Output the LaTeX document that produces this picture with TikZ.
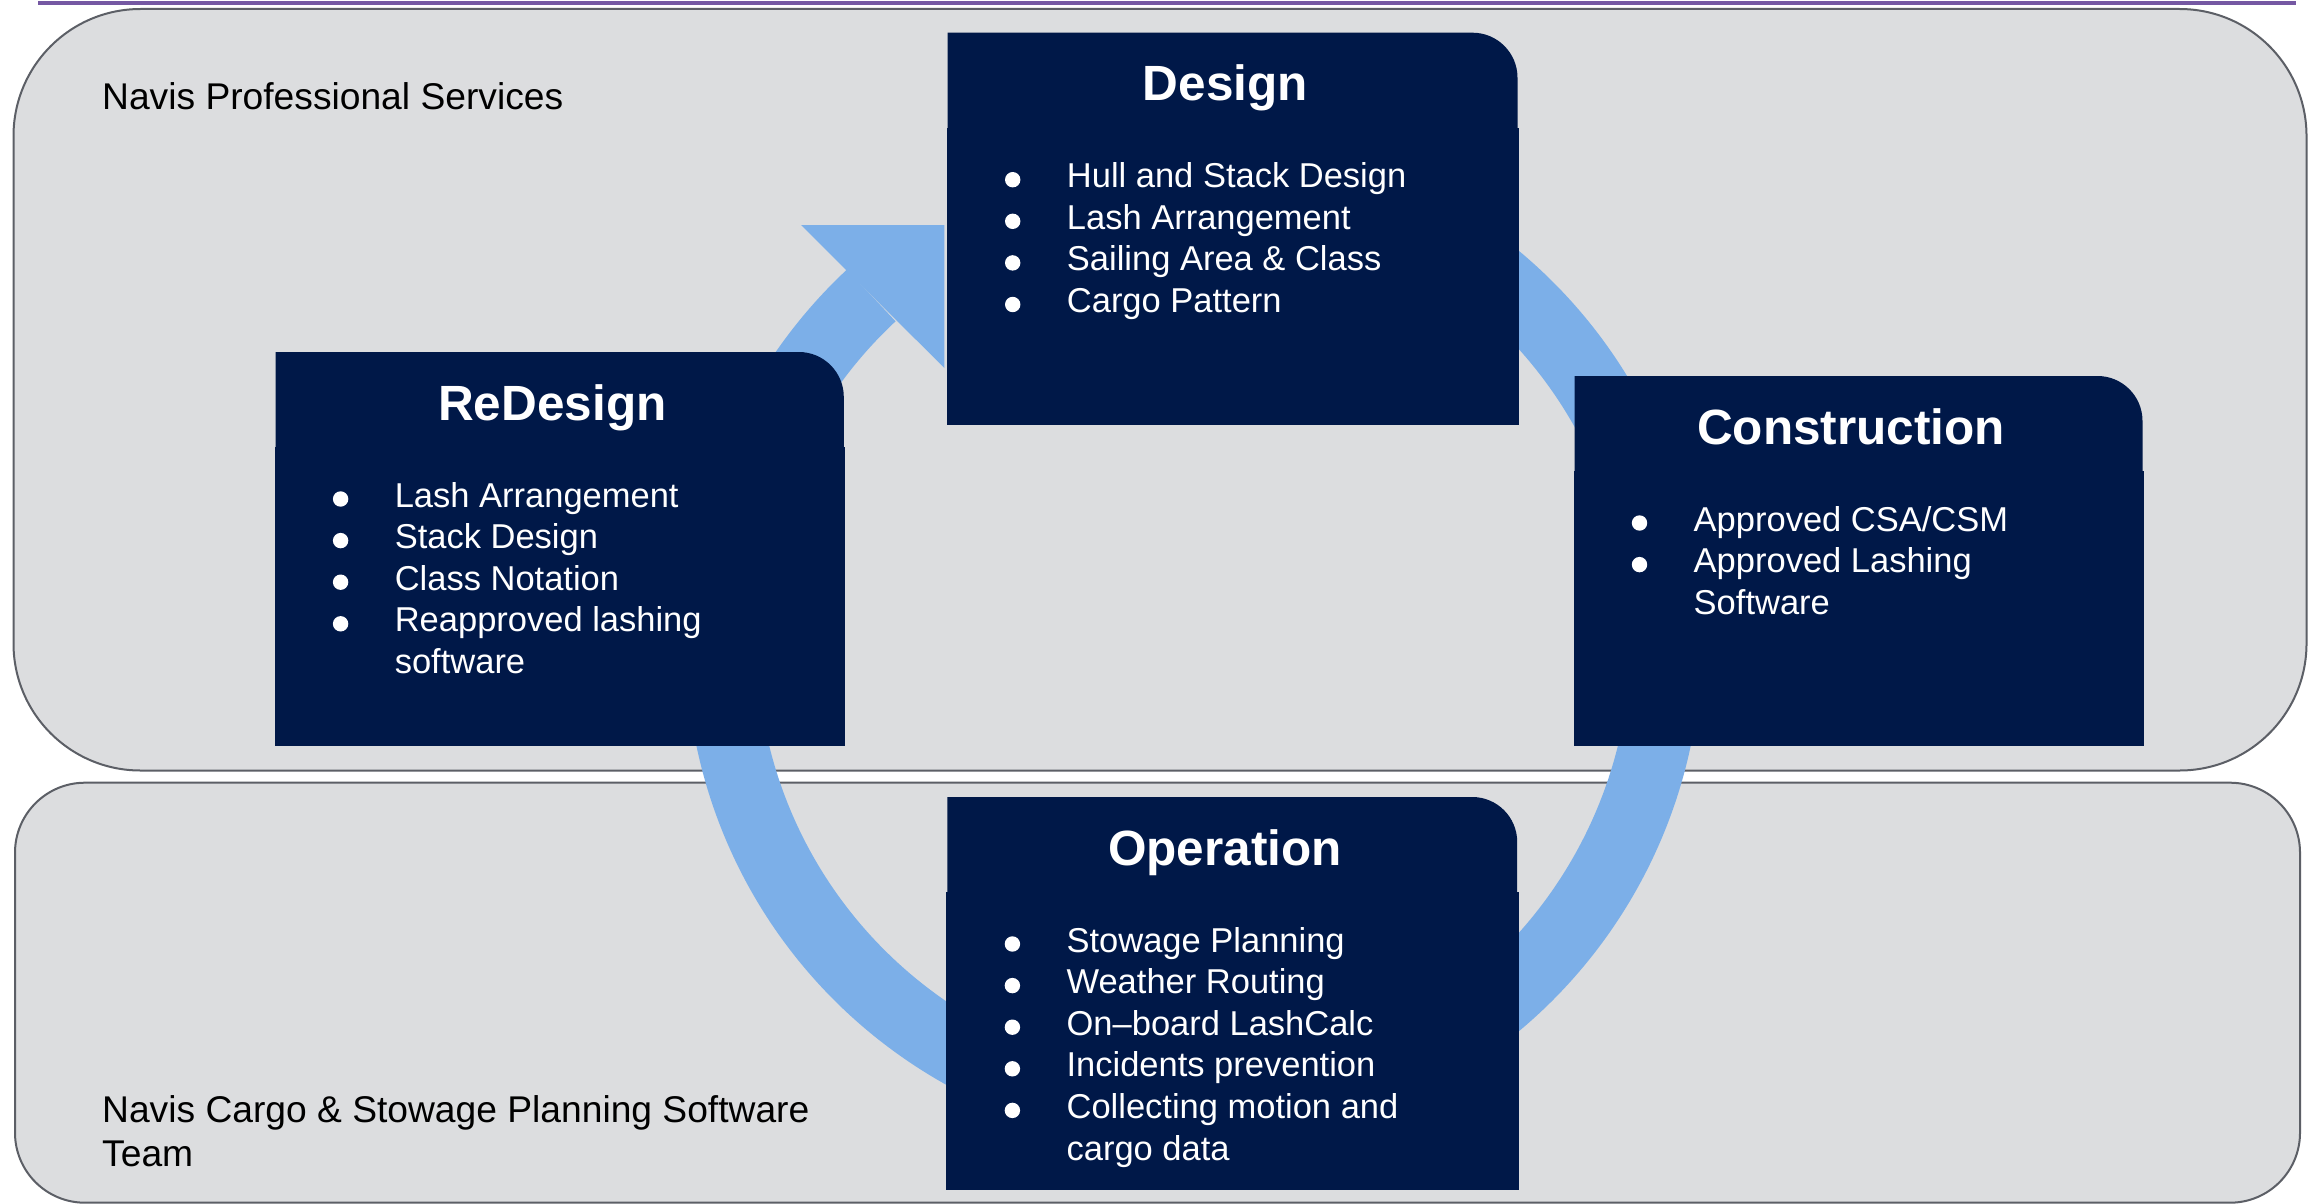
\documentclass[tikz,border=0pt]{standalone}
\usepackage{fontspec}
\setmainfont{Liberation Sans}
\usetikzlibrary{calc}

\definecolor{panelgray}{HTML}{DCDDDF}
\definecolor{paneledge}{HTML}{5C5F66}
\definecolor{navy}{HTML}{001848}
\definecolor{cycleblue}{HTML}{7CAFE8}
\definecolor{rulepurple}{HTML}{7558A3}

% navy stage card in local coordinates: width #1, height #2,
% a header with one rounded corner over a plain body
\newcommand{\stagebody}[2]{%
  \fill[navy] (1,96) -- (1,0) -- ({#1-46.5},0)
    arc[start angle=-90,end angle=0,radius=45] -- ({#1-1.5},96) -- cycle;
  \fill[navy] (0,95) rectangle (#1,#2);}
% white bullet dot for the item whose baseline is at #1
\newcommand{\bulletdot}[1]{\fill[white] (66,{#1-8}) circle[radius=7.7];}

\begin{document}
\begin{tikzpicture}[x=1pt, y=-1pt,
  panel/.style={fill=panelgray, draw=paneledge, line width=2pt},
  grouplabel/.style={anchor=base west, inner sep=0pt, text=black,
    font=\fontsize{37.2}{44}\selectfont},
  stagetitle/.style={anchor=base, inner sep=0pt, text=white,
    font=\bfseries\fontsize{49.5}{59}\selectfont},
  stageitem/.style={anchor=base west, inner sep=0pt, text=white,
    font=\fontsize{34.5}{41.6}\selectfont},
  ring/.style={draw=cycleblue, line width=71pt},
]
\useasboundingbox (0,0) rectangle (2315,1204);
\fill[white] (0,0) rectangle (2315,1204);

% top rule
\coordinate (rule-l) at (38,3.2);
\coordinate (rule-r) at (2296,3.2);
\draw[rulepurple, line width=3.6pt] (rule-l) -- (rule-r);

% the two team panels
\draw[panel, rounded corners=127pt] (13.5,9) rectangle (2306.5,770.5);
\draw[panel, rounded corners=70pt] (15,782.7) rectangle (2300,1202.7);

\node[grouplabel] (nps) at (102,109.5) {Navis Professional Services};
\node[grouplabel] (ncs) at (102,1122.5) {Navis Cargo \& Stowage Planning Software};
\node[grouplabel] (ncs-2) at (102,1166.5) {Team};

% circular process arrow
\coordinate (hub) at (1193.5,641);
\draw[ring] (hub) ++(-100:472.5) arc[start angle=-100,end angle=227,radius=472.5];
\coordinate (head-l) at (801,225);
\coordinate (head-tip) at (944.3,225);
\coordinate (head-r) at (944.3,368);
\fill[cycleblue] (head-l) -- (head-tip) -- (head-r) -- cycle;

% Design
\begin{scope}[shift={(946.7,32.7)}]
  \stagebody{572.3}{392.3}
  \node[stagetitle] (design) at (278.6,68) {Design};
  \foreach \b in {155,196.6,238.2,279.8} {\bulletdot{\b}}
  \node[stageitem] (design-1) at (120,155) {Hull and Stack Design};
  \node[stageitem] (design-2) at (120,196.6) {Lash Arrangement};
  \node[stageitem] (design-3) at (120,238.2) {Sailing Area \& Class};
  \node[stageitem] (design-4) at (120,279.8) {Cargo Pattern};
\end{scope}

% ReDesign
\begin{scope}[shift={(274.6,352)}]
  \stagebody{570.7}{394}
  \node[stagetitle] (redesign) at (277.8,68) {ReDesign};
  \foreach \b in {155,196.6,238.2,279.8} {\bulletdot{\b}}
  \node[stageitem] (redesign-1) at (120,155) {Lash Arrangement};
  \node[stageitem] (redesign-2) at (120,196.6) {Stack Design};
  \node[stageitem] (redesign-3) at (120,238.2) {Class Notation};
  \node[stageitem] (redesign-4) at (120,279.8) {Reapproved lashing};
  \node[stageitem] (redesign-4b) at (120,321.4) {software};
\end{scope}

% Construction
\begin{scope}[shift={(1573.5,376)}]
  \stagebody{570.5}{370}
  \node[stagetitle] (construction) at (277.7,68) {Construction};
  \foreach \b in {155,196.6} {\bulletdot{\b}}
  \node[stageitem] (construction-1) at (120,155) {Approved CSA/CSM};
  \node[stageitem] (construction-2) at (120,196.6) {Approved Lashing};
  \node[stageitem] (construction-2b) at (120,238.2) {Software};
\end{scope}

% Operation
\begin{scope}[shift={(946.4,797)}]
  \stagebody{572.3}{393}
  \node[stagetitle] (operation) at (278.6,68) {Operation};
  \foreach \b in {155,196.6,238.2,279.8,321.4} {\bulletdot{\b}}
  \node[stageitem] (operation-1) at (120,155) {Stowage Planning};
  \node[stageitem] (operation-2) at (120,196.6) {Weather Routing};
  \node[stageitem] (operation-3) at (120,238.2) {On–board LashCalc};
  \node[stageitem] (operation-4) at (120,279.8) {Incidents prevention};
  \node[stageitem] (operation-5) at (120,321.4) {Collecting motion and};
  \node[stageitem] (operation-5b) at (120,363) {cargo data};
\end{scope}
\end{tikzpicture}
\end{document}
